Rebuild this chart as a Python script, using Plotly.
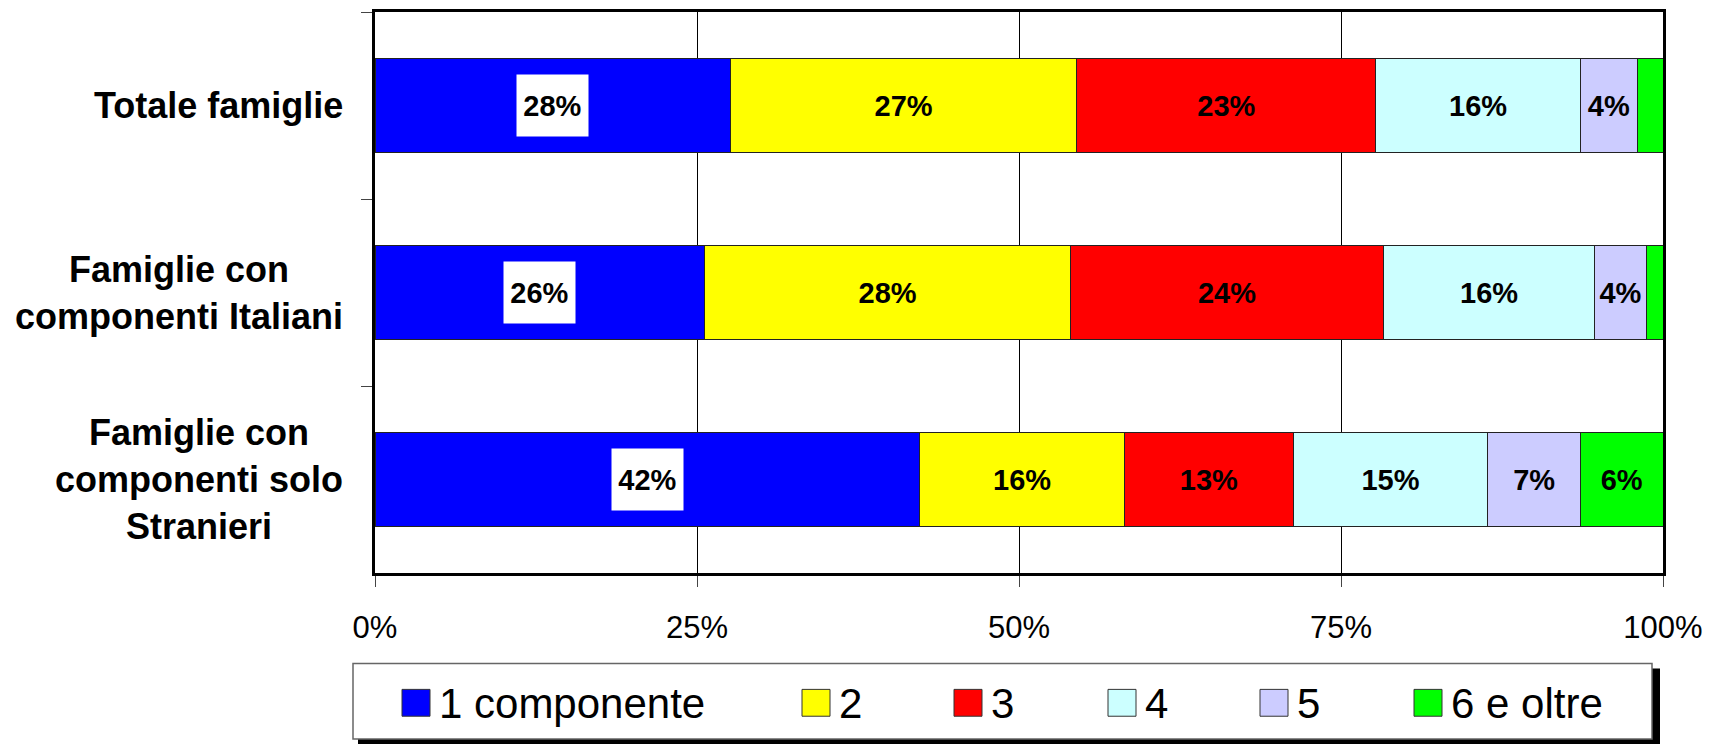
import plotly.graph_objects as go

# ---------------- data ----------------
categories = [
    "Totale famiglie",
    "Famiglie con componenti Italiani",
    "Famiglie con componenti solo Stranieri",
]
category_labels = [
    "Totale famiglie",
    "Famiglie con<br>componenti Italiani",
    "Famiglie con<br>componenti solo<br>Stranieri",
]
series_names = ["1 componente", "2", "3", "4", "5", "6 e oltre"]
comp_1 = [27.6, 25.6, 42.3]
comp_2 = [26.9, 28.4, 15.9]
comp_3 = [23.2, 24.3, 13.1]
comp_4 = [15.9, 16.4, 15.1]
comp_5 = [4.4, 4.0, 7.2]
comp_6 = [2.0, 1.3, 6.4]
series_values = [comp_1, comp_2, comp_3, comp_4, comp_5, comp_6]
x_ticks = [0, 25, 50, 75, 100]
x_tick_labels = ["0%", "25%", "50%", "75%", "100%"]

# ---------------- style ----------------
colors = ["#0000FF", "#FFFF00", "#FF0000", "#CCFFFF", "#CCCCFF", "#00FF00"]
FONT = "Liberation Sans, Arial, sans-serif"
W, H = 1720, 744
ML, MR, MT, MB = 375, 57, 9, 171
PW, PH = W - ML - MR, H - MT - MB


def px2x(px):
    return (px - ML) / PW


def py2y(py):
    return (H - MB - py) / PH


fig = go.Figure()
for i, (name, vals, col) in enumerate(zip(series_names, series_values, colors)):
    if i == 0:
        txt = ["" for _ in vals]
    else:
        txt = [f"{v:.0f}%" if v >= 3 else "" for v in vals]
    fig.add_trace(go.Bar(
        y=categories, x=vals, name=name, orientation="h",
        marker=dict(color=col, line=dict(color="#222222", width=1)),
        text=txt, textposition="inside", insidetextanchor="middle",
        textangle=0,
        textfont=dict(family=FONT, size=29, color="black", weight="bold"),
        showlegend=False,
    ))

annotations = []
# white-boxed labels for the first series
for cat, v in zip(categories, comp_1):
    annotations.append(dict(
        x=v / 2, y=cat, xref="x", yref="y", text=f"{v:.0f}%",
        showarrow=False, bgcolor="white", width=69, height=59,
        borderpad=1, font=dict(family=FONT, size=29, color="black", weight="bold"),
    ))
# category labels
for cat, lab in zip(categories, category_labels):
    annotations.append(dict(
        x=px2x(345), y=cat, xref="paper", yref="y", text=lab,
        showarrow=False, xanchor="right", yanchor="middle", align="center",
        font=dict(family=FONT, size=36, color="black", weight="bold"),
    ))

# custom legend
legend_x_px = [402, 802, 954, 1108, 1260, 1414]
shapes = [
    dict(type="rect", xref="paper", yref="paper", x0=px2x(358), x1=px2x(1660),
         y0=py2y(746), y1=py2y(740), fillcolor="black", line=dict(width=0), layer="above"),
    dict(type="rect", xref="paper", yref="paper", x0=px2x(1651), x1=px2x(1660),
         y0=py2y(746), y1=py2y(669), fillcolor="black", line=dict(width=0), layer="above"),
    dict(type="rect", xref="paper", yref="paper", x0=px2x(353), x1=px2x(1652),
         y0=py2y(740), y1=py2y(664), fillcolor="white",
         line=dict(color="#666666", width=1.5), layer="above"),
]
for name, col, lx in zip(series_names, colors, legend_x_px):
    shapes.append(dict(type="rect", xref="paper", yref="paper",
                       x0=px2x(lx), x1=px2x(lx + 28), y0=py2y(717), y1=py2y(690),
                       fillcolor=col, line=dict(color="#333333", width=1), layer="above"))
    annotations.append(dict(
        x=px2x(lx + 35), y=py2y(704), xref="paper", yref="paper", text=name,
        showarrow=False, xanchor="left", yanchor="middle",
        font=dict(family=FONT, size=42, color="black"),
    ))

fig.update_layout(
    width=W, height=H,
    margin=dict(l=ML, r=MR, t=MT, b=MB, pad=0),
    barmode="stack", bargap=0.5,
    plot_bgcolor="white", paper_bgcolor="white",
    font=dict(family=FONT, color="black"),
    showlegend=False,
    annotations=annotations,
    shapes=shapes,
)
fig.update_xaxes(
    range=[0, 100], tickvals=x_ticks, ticktext=x_tick_labels,
    showgrid=True, gridcolor="black", gridwidth=1,
    showline=True, linecolor="black", linewidth=3, mirror=True,
    ticks="outside", ticklen=11, tickcolor="#444444", tickwidth=1,
    tickfont=dict(family=FONT, size=31, color="black"),
    ticklabelstandoff=14, zeroline=False,
)
fig.update_yaxes(
    categoryorder="array", categoryarray=categories, autorange="reversed",
    showticklabels=False, showgrid=False,
    showline=True, linecolor="black", linewidth=3, mirror=True,
    ticks="outside", ticklen=11, tickcolor="#444444", tickwidth=1,
    tickson="boundaries",
)

fig.write_html(
    "out.html",
    config={"displayModeBar": False},
    post_script="document.body.style.margin='0';document.body.style.overflow='hidden';",
)
